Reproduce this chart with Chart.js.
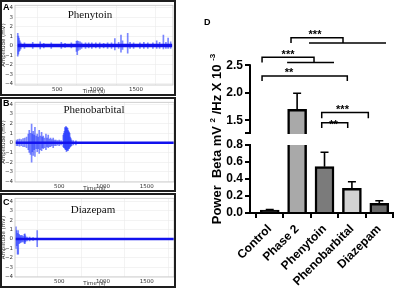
<!DOCTYPE html>
<html>
<head>
<meta charset="utf-8">
<script src="https://cdn.jsdelivr.net/npm/chart.js@4.4.0/dist/chart.umd.min.js"></script>
<style>
  body { margin: 0; width: 400px; height: 290px; background: #fff; position: relative; overflow: hidden; font-family: "Liberation Sans", Arial, sans-serif; }
  canvas { position: absolute; }
  .panel { position: absolute; border: 2px solid #1e1e1e; box-sizing: border-box; z-index: 2; }
  .ttl { position: absolute; font-family: "Liberation Serif", "Times New Roman", serif; font-size: 11px; color: #111; transform: translateX(-50%); white-space: nowrap; z-index: 3; }
  .lt { position: absolute; font-weight: bold; font-size: 9px; color: #000; z-index: 3; }
  .ytitle { position: absolute; left: 216px; top: 139px; transform: translate(-50%, -50%) rotate(-90deg); font-weight: bold; font-size: 13px; white-space: nowrap; color: #000; }
  .ytitle sup { font-size: 8px; }
</style>
</head>
<body>
<canvas id="eegA" width="176" height="95" style="left:0;top:0"></canvas>
<canvas id="eegB" width="176" height="95" style="left:0;top:97px"></canvas>
<canvas id="eegC" width="176" height="94" style="left:0;top:193px"></canvas>
<div class="panel" style="left:0;top:0;width:176px;height:96px"></div>
<div class="panel" style="left:0;top:97px;width:176px;height:95px"></div>
<div class="panel" style="left:0;top:193px;width:176px;height:95px"></div>
<div class="lt" style="left:3px;top:2px">A</div>
<div class="lt" style="left:3px;top:98px">B</div>
<div class="lt" style="left:3px;top:197px">C</div>
<div class="ttl" style="left:90px;top:8px">Phenytoin</div>
<div class="ttl" style="left:94px;top:103px">Phenobarbital</div>
<div class="ttl" style="left:93px;top:203px">Diazepam</div>

<canvas id="betaHigh" width="200" height="144" style="left:200px;top:0"></canvas>
<canvas id="betaLow" width="200" height="155" style="left:200px;top:135px"></canvas>
<div class="lt" style="left:204px;top:17px">D</div>
<div class="ytitle">Power&nbsp; Beta mV <sup>2</sup> /Hz X 10 <sup>-3</sup></div>

<script>
// panel D: beta power per group (mean and SEM, x10^-3)
const groups = ['Control', 'Phase 2', 'Phenytoin', 'Phenobarbital', 'Diazepam'];
const betaMean = [0.035, 1.70, 0.545, 0.29, 0.114];
const betaSem = [0.006, 0.29, 0.17, 0.078, 0.031];
const lowTicks = [0, 0.2, 0.4, 0.6, 0.8];
const highTicks = [1.5, 2.0, 2.5];
const sigStars = ['***', '***', '**', '***', '**'];

// panels A-C: EEG traces, [time s, upper mV, lower mV] for each visible deflection
const timeTicks = [500, 1000, 1500];
const ampTicks = [-4, -3, -2, -1, 0, 1, 2, 3, 4];
const phenytoinSpikes = [
  [0, 1.3, -1.1], [8, 1.0, -0.9], [16, 0.8, -0.6], [26, 0.5, -0.5], [38, 0.3, -0.35],
  [85, 0.3, -0.3], [190, 0.35, -0.3], [285, 0.4, -0.35], [330, 0.25, -0.25], [425, 0.3, -0.3],
  [553, 0.35, -0.3], [600, 0.25, -0.2], [680, 0.3, -0.25],
  [745, 0.45, -0.6], [755, 0.5, -0.95], [770, 0.45, -0.5], [790, 0.4, -0.4], [810, 0.3, -0.3],
  [860, 0.3, -0.3], [900, 0.3, -0.25], [940, 0.3, -0.3], [990, 0.3, -0.25], [1040, 0.3, -0.3],
  [1090, 0.25, -0.25], [1140, 0.3, -0.3], [1190, 0.3, -0.3], [1232, 0.75, -0.45], [1280, 0.35, -0.3],
  [1310, 1.1, -0.7], [1330, 0.5, -0.4], [1395, 1.3, -0.8], [1425, 0.35, -0.3], [1470, 0.3, -0.3],
  [1550, 0.3, -0.3], [1600, 0.35, -0.3], [1650, 0.3, -0.3], [1715, 0.3, -0.3], [1763, 0.5, -0.3],
  [1800, 0.35, -0.3], [1848, 1.1, -0.35], [1880, 0.35, -0.3], [1908, 0.8, -0.3], [1940, 0.4, -0.3]
];
const phenobarbitalSpikes = [
  [10, 0.3, -0.3], [25, 0.35, -0.3], [45, 0.4, -0.35], [65, 0.35, -0.3], [85, 0.45, -0.4],
  [105, 0.5, -0.4], [125, 0.6, -0.5], [145, 0.9, -0.7], [156, 1.3, -1.0], [170, 1.0, -1.2],
  [183, 1.95, -2.0], [192, 0.9, -0.9], [201, 1.2, -1.3], [212, 0.8, -0.7], [221, 1.6, -1.4],
  [235, 0.7, -0.6], [247, 0.9, -0.9], [258, 0.6, -0.6], [270, 1.3, -1.1], [283, 0.7, -0.7],
  [297, 1.1, -0.8], [306, 0.6, -0.5], [316, 0.7, -0.6], [330, 0.5, -0.5], [347, 0.9, -0.7],
  [360, 0.5, -0.4], [373, 0.8, -0.5], [387, 0.4, -0.4], [400, 0.5, -0.4], [415, 0.35, -0.3],
  [430, 0.5, -0.5], [445, 0.3, -0.3], [461, 0.3, -0.3], [480, 0.25, -0.25], [499, 0.3, -0.3],
  [520, 0.25, -0.2], [545, 0.8, -0.4], [552, 1.0, -0.5], [558, 1.2, -0.5], [565, 1.6, -0.6],
  [570, 1.5, -0.7], [576, 1.7, -0.7], [582, 1.6, -0.9], [588, 1.55, -0.8], [595, 1.5, -0.7],
  [600, 1.3, -0.8], [606, 1.2, -0.6], [612, 1.1, -0.6], [618, 1.0, -0.5], [625, 0.6, -0.4],
  [632, 0.45, -0.35], [640, 0.3, -0.3], [660, 0.25, -0.2], [690, 0.2, -0.2]
];
const diazepamSpikes = [
  [4, 1.3, -1.0], [12, 0.9, -0.7], [22, 0.6, -1.6], [30, 0.9, -1.6], [40, 0.5, -0.5],
  [50, 0.4, -0.4], [60, 0.35, -0.35], [72, 0.4, -0.3], [85, 0.3, -0.3], [100, 0.5, -0.45],
  [106, 0.55, -0.5], [112, 0.35, -0.3], [130, 0.2, -0.2], [160, 0.2, -0.2], [200, 0.15, -0.15],
  [247, 0.9, -0.8]
];

const barFill = ['#1c1c1c', '#a9a9a9', '#7b7b7b', '#d2d2d2', '#6a6a6a'];
const sansBold = { family: '"Liberation Sans", Arial, sans-serif', weight: 'bold' };

const plotFrame = {
  id: 'plotFrame',
  afterDraw(chart) {
    const a = chart.chartArea, c = chart.ctx;
    c.save();
    c.strokeStyle = '#c4c4c4';
    c.lineWidth = 0.8;
    c.strokeRect(a.left, a.top, a.right - a.left, a.bottom - a.top);
    c.restore();
  }
};

function tracePanel(id, spikes, tEnd, xr, yr, padTop, padRight, baseW) {
  const small = { family: '"DejaVu Sans", sans-serif', size: 5.5 };
  new Chart(document.getElementById(id), {
    type: 'bar',
    data: {
      datasets: [
        { type: 'line', data: [{ x: 0, y: 0 }, { x: tEnd, y: 0 }], borderColor: '#1212ee', borderWidth: baseW, pointRadius: 0 },
        { data: spikes.map(s => ({ x: s[0], y: [s[2], s[1]] })), backgroundColor: 'rgba(35,55,255,0.6)', barThickness: 1 }
      ]
    },
    options: {
      responsive: false,
      animation: false,
      layout: { padding: { top: padTop, right: padRight, left: 0, bottom: 0 } },
      plugins: { legend: { display: false }, tooltip: { enabled: false } },
      scales: {
        x: {
          type: 'linear', min: xr[0], max: xr[1], offset: false,
          afterBuildTicks: s => { s.ticks = timeTicks.map(v => ({ value: v })); },
          afterFit: s => { s.height = 10; },
          ticks: { font: small, color: '#333', padding: 1, maxRotation: 0, autoSkip: false, callback: v => String(v) },
          grid: { color: '#ebebeb', lineWidth: 0.6, tickLength: 0 },
          border: { display: false },
          title: { display: true, text: 'Time (s)', font: small, color: '#333', padding: 0 }
        },
        y: {
          min: yr[0], max: yr[1],
          afterBuildTicks: s => { s.ticks = ampTicks.map(v => ({ value: v })); },
          afterFit: s => { s.width = 15; },
          ticks: { font: small, color: '#333', padding: 2, autoSkip: false, callback: v => v < 0 ? '\u2212' + Math.abs(v) : String(v) },
          grid: { color: '#ebebeb', lineWidth: 0.6, tickLength: 0 },
          border: { display: false },
          title: { display: true, text: 'Amplitude (mV)', font: small, color: '#333', padding: 0 }
        }
      }
    },
    plugins: [plotFrame]
  });
}

tracePanel('eegA', phenytoinSpikes, 1960, [-35, 1970], [-4.15, 4.25], 3, 3, 3.5);
tracePanel('eegB', phenobarbitalSpikes, 1812, [-7, 1812], [-4.05, 4.2], 2, 2, 2.5);
tracePanel('eegC', diazepamSpikes, 1812, [-7, 1812], [-4.05, 4.35], 3, 2, 2.5);

// significance brackets, in group-axis / beta units
const bracketLayout = [
  { x: [0.777, 2.675], y: 3.0, leg: 2.905, star: [1.653, 3.105], line: [1.434, 4.245] },
  { x: [-0.28, 1.617], y: 2.645, leg: 2.55, star: [0.668, 2.746], line: [0.635, 2.347] },
  { x: [-0.28, 2.832], y: 2.305, leg: 2.215, star: [0.704, 2.426] },
  { x: [1.898, 3.599], y: 1.64, leg: 1.535, star: [2.657, 1.746] },
  { x: [1.898, 2.847], y: 1.455, leg: 1.36, star: [2.332, 1.468] }
];

const errorBars = {
  id: 'errorBars',
  afterDatasetsDraw(chart) {
    const xs = chart.scales.x, ys = chart.scales.y, c = chart.ctx;
    c.save();
    c.strokeStyle = '#000';
    c.lineWidth = 1.6;
    betaMean.forEach((m, i) => {
      if (m < ys.min || m > ys.max) return;
      const x = xs.getPixelForValue(i);
      const y0 = ys.getPixelForValue(m), y1 = ys.getPixelForValue(m + betaSem[i]);
      c.beginPath();
      c.moveTo(x, y0); c.lineTo(x, y1);
      c.moveTo(x - 4, y1); c.lineTo(x + 4, y1);
      c.stroke();
    });
    c.restore();
  }
};

const brokenAxis = {
  id: 'brokenAxis',
  afterDraw(chart) {
    const ys = chart.scales.y, c = chart.ctx, left = chart.chartArea.left;
    const yb = ys.getPixelForValue(ys.min), yt = ys.getPixelForValue(highTicks[highTicks.length - 1]);
    c.save();
    c.strokeStyle = '#000';
    c.lineWidth = 2;
    c.beginPath();
    c.moveTo(left, yt - 1); c.lineTo(left, yb);
    c.moveTo(left - 5, yb - 1); c.lineTo(left + 1, yb - 1);
    c.stroke();
    c.restore();
  }
};

const sigBrackets = {
  id: 'sigBrackets',
  afterDraw(chart) {
    const xs = chart.scales.x, ys = chart.scales.y, c = chart.ctx;
    const X = v => xs.getPixelForValue(v), Y = v => ys.getPixelForValue(v);
    c.save();
    c.strokeStyle = '#000';
    c.fillStyle = '#000';
    c.lineWidth = 1.5;
    c.font = 'bold 11px "Liberation Sans", Arial, sans-serif';
    c.textAlign = 'center';
    c.textBaseline = 'alphabetic';
    bracketLayout.forEach((b, k) => {
      c.beginPath();
      c.moveTo(X(b.x[0]), Y(b.leg));
      c.lineTo(X(b.x[0]), Y(b.y));
      c.lineTo(X(b.x[1]), Y(b.y));
      c.lineTo(X(b.x[1]), Y(b.leg));
      if (b.line) {
        c.moveTo(X(b.line[0]), Y(b.leg));
        c.lineTo(X(b.line[1]), Y(b.leg));
      }
      c.stroke();
      c.fillText(sigStars[k], X(b.star[0]), Y(b.star[1]) + 6.3);
    });
    c.restore();
  }
};

const groupAxis = { type: 'linear', min: -0.72, max: 4.5, offset: false };
const yTickFont = Object.assign({ size: 12 }, sansBold);

new Chart(document.getElementById('betaHigh'), {
  type: 'bar',
  data: {
    datasets: [{
      data: groups.map((g, i) => ({ x: i, y: betaMean[i] > 1.25 ? betaMean[i] : null })),
      backgroundColor: barFill, borderColor: '#000', borderWidth: 2.5, barThickness: 19
    }]
  },
  options: {
    responsive: false,
    animation: false,
    layout: { padding: { top: 24, bottom: 10, right: 7, left: 0 } },
    plugins: { legend: { display: false }, tooltip: { enabled: false } },
    scales: {
      x: Object.assign({ display: false }, groupAxis),
      y: {
        min: 1.25, max: 3.25,
        afterBuildTicks: s => { s.ticks = highTicks.map(v => ({ value: v })); },
        afterFit: s => { s.width = 50; },
        ticks: { font: yTickFont, color: '#000', padding: 2, autoSkip: false, callback: v => v.toFixed(1) },
        grid: { drawOnChartArea: false, tickLength: 5, color: '#000', lineWidth: 2 },
        border: { display: false }
      }
    }
  },
  plugins: [brokenAxis, errorBars, sigBrackets]
});

new Chart(document.getElementById('betaLow'), {
  type: 'bar',
  data: {
    datasets: [{
      data: groups.map((g, i) => ({ x: i, y: betaMean[i] })),
      backgroundColor: barFill, borderColor: '#000', borderWidth: 2.5, barThickness: 19
    }]
  },
  options: {
    responsive: false,
    animation: false,
    layout: { padding: { top: 10, bottom: 0, right: 7, left: 0 } },
    plugins: { legend: { display: false }, tooltip: { enabled: false } },
    scales: {
      x: Object.assign({
        afterBuildTicks: s => { s.ticks = groups.map((g, i) => ({ value: i })); },
        afterFit: s => { s.height = 77; },
        ticks: { font: yTickFont, color: '#000', padding: 4, minRotation: 45, maxRotation: 45, autoSkip: false, callback: v => groups[v] },
        grid: { drawOnChartArea: false, tickLength: 5, color: '#000', lineWidth: 2 },
        border: { color: '#000', width: 2 }
      }, groupAxis),
      y: {
        min: 0, max: 0.8,
        afterBuildTicks: s => { s.ticks = lowTicks.map(v => ({ value: v })); },
        afterFit: s => { s.width = 50; },
        ticks: { font: yTickFont, color: '#000', padding: 2, autoSkip: false, callback: v => v.toFixed(1) },
        grid: { drawOnChartArea: false, tickLength: 5, color: '#000', lineWidth: 2 },
        border: { color: '#000', width: 2 }
      }
    }
  },
  plugins: [errorBars]
});
</script>
</body>
</html>
